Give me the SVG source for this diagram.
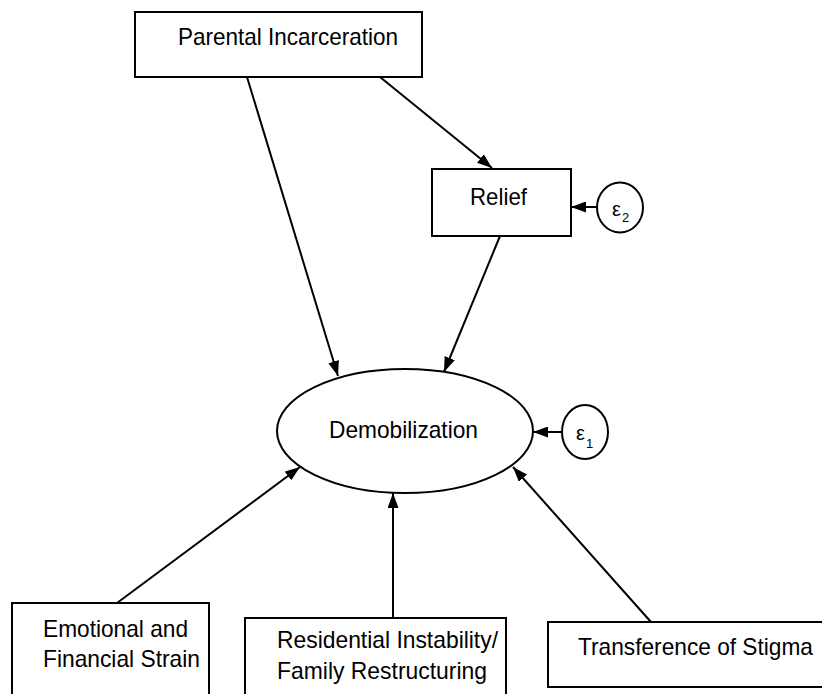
<svg xmlns="http://www.w3.org/2000/svg" width="822" height="694" viewBox="0 0 822 694">
<style>
.box{fill:#fff;stroke:#000;stroke-width:2}
.t{font-family:"Liberation Sans",Arial,sans-serif;font-size:24px;fill:#000}
.e{font-family:"Liberation Sans",Arial,sans-serif;font-size:20px;fill:#000}
.s{font-family:"Liberation Sans",Arial,sans-serif;font-size:13px;fill:#000}
.c line{stroke:#000;stroke-width:2;marker-end:url(#ah)}
</style>
<defs>
<marker id="ah" viewBox="0 0 15 11" refX="15" refY="5.5" markerWidth="15" markerHeight="11" markerUnits="userSpaceOnUse" orient="auto">
<path d="M0,0 L15,5.5 L0,11 z" fill="#000"/>
</marker>
</defs>
<rect width="822" height="694" fill="#fff"/>
<g id="connectors" class="c">
<line x1="247" y1="77" x2="338" y2="376"/>
<line x1="380" y1="77" x2="492" y2="168"/>
<line x1="500" y1="236" x2="444" y2="372"/>
<line x1="597" y1="207" x2="571" y2="207"/>
<line x1="562" y1="432" x2="533" y2="432"/>
<line x1="117" y1="603" x2="300" y2="467"/>
<line x1="393" y1="618" x2="393" y2="493"/>
<line x1="651" y1="622" x2="513" y2="467"/>
</g>
<g id="parental">
<rect class="box" x="135" y="12" width="287" height="65"/>
<text class="t" x="178" y="45" textLength="220" lengthAdjust="spacingAndGlyphs">Parental Incarceration</text>
</g>
<g id="relief">
<rect class="box" x="432" y="169" width="139" height="67"/>
<text class="t" x="470" y="205" textLength="57" lengthAdjust="spacingAndGlyphs">Relief</text>
</g>
<g id="eps2">
<ellipse class="box" cx="620" cy="207.5" rx="23" ry="25"/>
<text class="e" x="612" y="216">ε</text>
<text class="s" x="622" y="222">2</text>
</g>
<g id="demobilization">
<ellipse class="box" cx="405" cy="431" rx="128" ry="62"/>
<text class="t" x="329" y="438" textLength="149" lengthAdjust="spacingAndGlyphs">Demobilization</text>
</g>
<g id="eps1">
<ellipse class="box" cx="585" cy="432" rx="23" ry="27"/>
<text class="e" x="576" y="440">ε</text>
<text class="s" x="586" y="448">1</text>
</g>
<g id="emotional">
<path class="box" d="M12,694 V603 H209 V694"/>
<text class="t" x="43" y="637" textLength="145" lengthAdjust="spacingAndGlyphs">Emotional and</text>
<text class="t" x="43" y="667" textLength="157" lengthAdjust="spacingAndGlyphs">Financial Strain</text>
</g>
<g id="residential">
<path class="box" d="M245,694 V618 H506 V694"/>
<text class="t" x="277" y="648" textLength="221" lengthAdjust="spacingAndGlyphs">Residential Instability/</text>
<text class="t" x="277" y="679" textLength="210" lengthAdjust="spacingAndGlyphs">Family Restructuring</text>
</g>
<g id="stigma">
<path class="box" d="M822,622 H548 V687 H822"/>
<text class="t" x="578" y="655" textLength="235" lengthAdjust="spacingAndGlyphs">Transference of Stigma</text>
</g>
</svg>
